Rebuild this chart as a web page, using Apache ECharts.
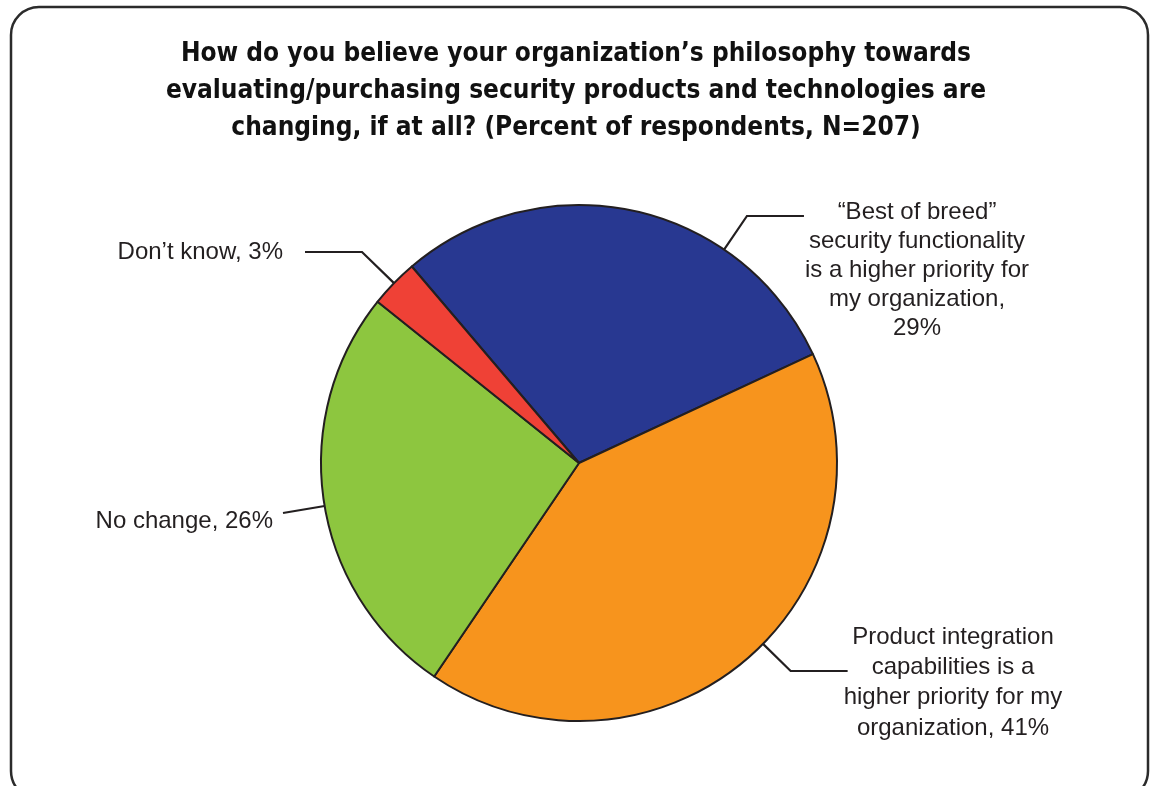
<!DOCTYPE html>
<html>
<head>
<meta charset="utf-8">
<script src="https://cdn.jsdelivr.net/npm/echarts@6/dist/echarts.min.js"></script>
<style>
html,body{margin:0;padding:0;background:#fff;}
#chart{width:1152px;height:786px;}
</style>
</head>
<body>
<div id="chart"></div>
<script>
// ---- data ----
const titleText = "How do you believe your organization\u2019s philosophy towards\nevaluating/purchasing security products and technologies are\nchanging, if at all? (Percent of respondents, N=207)";
const categories = [
  "\u201cBest of breed\u201d\nsecurity functionality\nis a higher priority for\nmy organization,",
  "Product integration\ncapabilities is a\nhigher priority for my\norganization,",
  "No change,",
  "Don\u2019t know,"
];
const labelSeparators = ["\n", " ", " ", " "];
const values = [29, 41, 26, 3];
const colors = ["#283891", "#F7941D", "#8DC63F", "#EF4136"];

// ---- layout (styles/positions) ----
const CX = 579, CY = 463, R = 258;
const labelLayouts = [
  {x: 917, y: 198, align: 'center', lineY: 216, gap: 1, len2: 57, lh: 29},
  {x: 953, y: 622, align: 'center', lineY: 671, gap: -4, len2: 57, lh: 30.3},
  {x: 273, y: 521, align: 'right', lineY: 513, gap: 10, len2: 0, lh: 24},
  {x: 283, y: 252, align: 'right', lineY: 252, gap: 22, len2: 57, lh: 24}
];

const chart = echarts.init(document.getElementById('chart'), null, {renderer: 'canvas'});

const pieData = categories.map((c, i) => ({
  name: c,
  value: values[i],
  itemStyle: {color: colors[i]},
  label: {lineHeight: labelLayouts[i].lh}
}));

function pointOnCircle(px, py) {
  const dx = px - CX, dy = py - CY;
  const d = Math.sqrt(dx * dx + dy * dy);
  return [CX + R * dx / d, CY + R * dy / d];
}

const option = {
  backgroundColor: '#ffffff',
  animation: false,
  title: {
    text: titleText,
    left: 'center',
    top: 31,
    textStyle: {
      fontFamily: '"Liberation Sans Narrow", "DejaVu Sans Condensed", "Liberation Sans", sans-serif',
      fontWeight: 'bold',
      fontSize: 26,
      lineHeight: 37,
      color: '#111111'
    }
  },
  graphic: [{
    type: 'rect',
    shape: {x: 11, y: 7, width: 1137, height: 792, r: 28},
    style: {fill: 'none', stroke: '#2b2b2b', lineWidth: 2.5},
    silent: true,
    z: -1
  }],
  series: [{
    type: 'pie',
    center: [CX, CY],
    radius: R,
    startAngle: 130.4,
    clockwise: true,
    avoidLabelOverlap: false,
    data: pieData,
    itemStyle: {borderColor: '#231f20', borderWidth: 2},
    label: {
      show: true,
      position: 'outside',
      formatter: p => p.name + labelSeparators[p.dataIndex] + p.value + '%',
      fontFamily: '"Liberation Sans", Arial, sans-serif',
      fontSize: 24,
      color: '#231f20'
    },
    labelLine: {
      show: true,
      length: 20,
      length2: 40,
      lineStyle: {color: '#231f20', width: 2.2}
    },
    labelLayout: function (params) {
      const L = labelLayouts[params.dataIndex];
      const w = params.labelRect.width;
      let p2, p1;
      if (L.align === 'center') {
        p2 = [L.x - w / 2 - L.gap, L.lineY];
        p1 = [p2[0] - L.len2, L.lineY];
      } else {
        p2 = [L.x + L.gap, L.lineY];
        p1 = [p2[0] + L.len2, L.lineY];
      }
      const p0 = pointOnCircle(p1[0], p1[1]);
      return {
        x: L.x,
        y: L.y,
        align: L.align,
        verticalAlign: L.align === 'center' ? 'top' : 'middle',
        labelLinePoints: [p0, p1, p2]
      };
    }
  }]
};
chart.setOption(option);
</script>
</body>
</html>
